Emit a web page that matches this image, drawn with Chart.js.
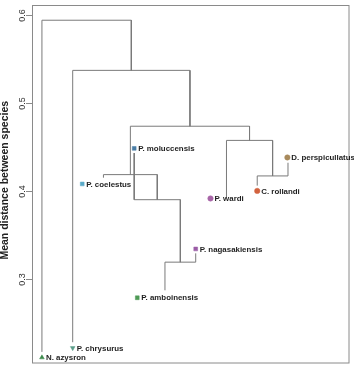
<!DOCTYPE html>
<html>
<head>
<meta charset="utf-8">
<script src="https://cdn.jsdelivr.net/npm/chart.js@4.4.1/dist/chart.umd.min.js"></script>
<style>
  body { margin: 0; background: #fff; }
  canvas { display: block; }
</style>
</head>
<body>
<canvas id="grafico" width="354" height="368"></canvas>
<script>
// leaves, in the order they sit along the x axis
const species = ['N. azysron', 'P. chrysurus', 'P. coelestus', 'P. moluccensis', 'P. amboinensis',
                 'P. nagasakiensis', 'P. wardi', 'C. rollandi', 'D. perspicullatus'];
const leafPos = [1, 2, 3, 4, 5, 6, 7, 8, 9];
const leafTip = [0.217, 0.228, 0.415, 0.443, 0.287, 0.329, 0.392, 0.406, 0.432];

// where each marker + label was put
const markerX = [1, 2, 2.31, 4, 4.1, 6, 6.48, 8, 8.98];
const markerY = [0.2106, 0.2215, 0.4079, 0.4483, 0.2785, 0.334, 0.3914, 0.400, 0.438];

// merges, hclust style: negative = leaf, positive = earlier merge (1-based)
const mergeA = [-5, -4, -3, -8, -7, 3, -2, -1];
const mergeB = [-6, 1, 2, -9, 4, 5, 6, 7];
const mergeHeight = [0.319, 0.390, 0.4185, 0.417, 0.4574, 0.4735, 0.537, 0.594];

const yTicks = [0.3, 0.4, 0.5, 0.6];
const yTitle = 'Mean distance between species';

const markerColor = ['#3c8a4c', '#5c9e8a', '#5aaac8', '#4a7ea6', '#4f9a56', '#9a5ca6', '#a866a8', '#d2623e', '#a88a5c'];
const markerShape = ['triangle', 'triangle', 'rect', 'rect', 'rect', 'rect', 'circle', 'circle', 'circle'];
const markerRot = [0, 180, 0, 0, 0, 0, 0, 0, 0];

// x and height of every node
let nodeX = [];
let nodeH = [];
function childX(c) { return c < 0 ? leafPos[-c - 1] : nodeX[c - 1]; }
function childH(c) { return c < 0 ? leafTip[-c - 1] : nodeH[c - 1]; }

let datasets = [];
for (let i = 0; i < mergeA.length; i++) {
    const xa = childX(mergeA[i]), xb = childX(mergeB[i]);
    nodeX.push((xa + xb) / 2);
    nodeH.push(mergeHeight[i]);
    datasets.push({
        type: 'line',
        data: [
            {x: xa, y: childH(mergeA[i])},
            {x: xa, y: mergeHeight[i]},
            {x: xb, y: mergeHeight[i]},
            {x: xb, y: childH(mergeB[i])}
        ],
        borderColor: '#7a7a7a',
        borderWidth: 1,
        pointRadius: 0,
        tension: 0,
        fill: false
    });
}

datasets.push({
    type: 'scatter',
    data: markerX.map((x, i) => ({x: x, y: markerY[i]})),
    pointStyle: markerShape,
    rotation: markerRot,
    pointRadius: 2.7,
    backgroundColor: markerColor,
    borderColor: markerColor,
    borderWidth: 0.5
});

const decor = {
    id: 'decor',
    afterDatasetsDraw(chart) {
        const c = chart.ctx;
        const a = chart.chartArea;
        const xs = chart.scales.x, ys = chart.scales.y;
        c.save();
        // frame
        c.strokeStyle = '#8a8a8a';
        c.lineWidth = 1;
        c.strokeRect(a.left + 0.5, a.top + 0.5, a.right - a.left - 1, a.bottom - a.top - 1);
        // y ticks, rotated like R's
        c.fillStyle = '#333';
        c.font = '9px "Liberation Sans", Arial, sans-serif';
        c.textAlign = 'center';
        c.textBaseline = 'middle';
        yTicks.forEach((t) => {
            const y = Math.round(ys.getPixelForValue(t)) + 0.5;
            c.beginPath();
            c.moveTo(a.left - 6, y);
            c.lineTo(a.left, y);
            c.stroke();
            c.save();
            c.translate(a.left - 9, y);
            c.rotate(-Math.PI / 2);
            c.fillText(t.toFixed(1), 0, 0);
            c.restore();
        });
        // axis title
        c.save();
        c.fillStyle = '#222';
        c.font = 'bold 10.5px "Liberation Sans", Arial, sans-serif';
        c.translate(5, (a.top + a.bottom) / 2 - 4);
        c.rotate(-Math.PI / 2);
        c.fillText(yTitle, 0, 0);
        c.restore();
        // leaf labels
        c.fillStyle = '#1e1e1e';
        c.font = 'bold 7.9px "Liberation Sans", Arial, sans-serif';
        c.textAlign = 'left';
        species.forEach((s, i) => {
            c.fillText(s, xs.getPixelForValue(markerX[i]) + 4, ys.getPixelForValue(markerY[i]) + 0.5);
        });
        c.restore();
    }
};

new Chart(document.getElementById('grafico').getContext('2d'), {
    type: 'scatter',
    data: {datasets: datasets},
    options: {
        responsive: false,
        animation: false,
        layout: {padding: {left: 32, top: 5, right: 2, bottom: 3}},
        scales: {
            x: {type: 'linear', min: 0.677, max: 11.0, display: false},
            y: {type: 'linear', min: 0.2038, max: 0.6113, display: false}
        },
        plugins: {
            legend: {display: false},
            tooltip: {enabled: false}
        }
    },
    plugins: [decor]
});
</script>
</body>
</html>
